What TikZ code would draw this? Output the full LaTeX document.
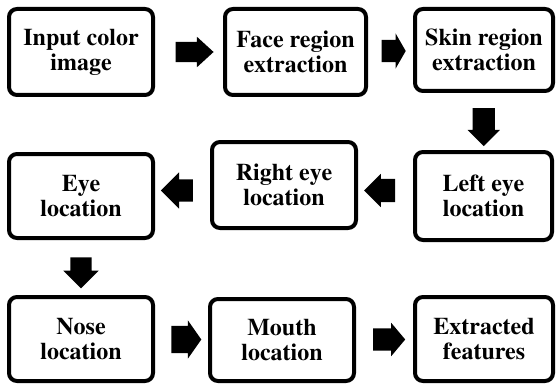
\documentclass[tikz,border=0pt]{standalone}
\usepackage[T1]{fontenc}
\usetikzlibrary{shapes,arrows,calc}
\newcommand{\boxfont}{\fontfamily{ptm}\fontsize{24}{25}\selectfont\bfseries}

\begin{document}
\begin{tikzpicture}[x=1pt,y=-1pt,% pixel-like units, y grows downwards
	box/.style={
		rectangle,rounded corners=8pt,
		line width=4pt,draw=black,fill=white,
		align=center,   % use this so that the "\\" for line break works
		font=\boxfont
		},
	blockarrow/.style={
		single arrow,fill=black,inner xsep=0pt,
		inner ysep=10pt,            % half of the shaft width
		single arrow head extend=5pt
		},
	downarrow/.style={
		blockarrow,shape border rotate=270,
		inner ysep=0pt,inner xsep=11pt
		}
	]
\useasboundingbox (0,0) rectangle (556,385);
% first row
\node[box,minimum width=144pt,minimum height=86pt](input) at (81,52){Input color\\image};
\node[box,minimum width=141pt,minimum height=86pt](face) at (295.5,52){Face region\\extraction};
\node[box,minimum width=138pt,minimum height=82pt](skin) at (484,50){Skin region\\extraction};
% second row
\node[box,minimum width=137pt,minimum height=88pt](lefteye) at (483.5,196){Left eye\\location};
\node[box,minimum width=144pt,minimum height=86pt](righteye) at (284,185){Right eye\\location};
\node[box,minimum width=144pt,minimum height=84pt](eye) at (81,196){Eye\\location};
% third row
\node[box,minimum width=144pt,minimum height=84pt](nose) at (81,339){Nose\\location};
\node[box,minimum width=144pt,minimum height=82pt](mouth) at (282,340){Mouth\\location};
\node[box,minimum width=138pt,minimum height=84pt](extracted) at (484,339){Extracted\\features};
% block arrows between the boxes
\node[blockarrow,minimum height=38pt,single arrow tip angle=85](a1) at ($(input.east)!.5!(face.west)$){};
\node[blockarrow,minimum height=24pt,inner ysep=11pt,single arrow head extend=6.5pt,single arrow tip angle=120](a2) at ($(face.east)!.5!(skin.west)$){};
\node[downarrow,minimum height=38pt](a3) at ($(skin.south)!.5!(lefteye.north)$){};
\node[blockarrow,minimum height=31pt,inner ysep=11.5pt,shape border rotate=180](a4) at ($(lefteye.west)!.5!(righteye.east)$){};
\node[blockarrow,minimum height=32pt,inner ysep=11pt,single arrow head extend=7pt,shape border rotate=180](a5) at ($(righteye.west)!.5!(eye.east)$){};
\node[downarrow,minimum height=31pt,inner xsep=10.5pt,single arrow head extend=7pt](a6) at ($(eye.south)!.5!(nose.north)$){};
\node[blockarrow,minimum height=30pt,inner ysep=13.5pt,single arrow head extend=5.5pt,single arrow tip angle=110](a7) at ($(nose.east)!.5!(mouth.west)$){};
\node[blockarrow,minimum height=32pt,inner ysep=11pt,single arrow head extend=5.5pt,single arrow tip angle=100](a8) at ($(mouth.east)!.5!(extracted.west)$){};
\end{tikzpicture}
\end{document}
